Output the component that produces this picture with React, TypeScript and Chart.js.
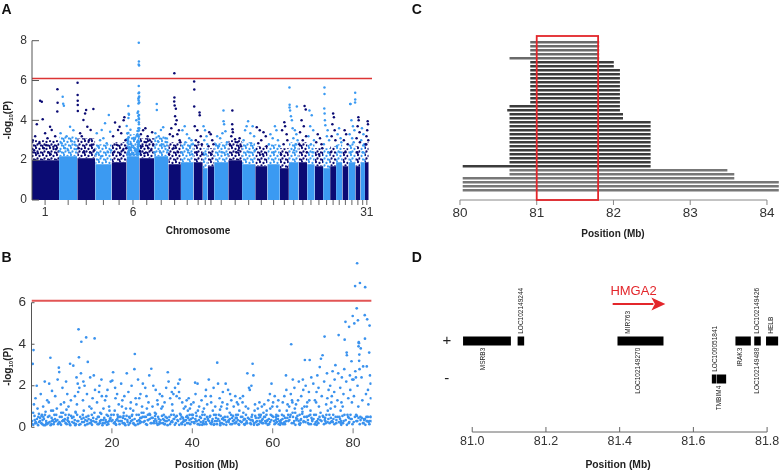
import React, { useEffect, useRef } from 'react';
import { Chart, registerables } from 'chart.js';

Chart.register(...registerables);

const FONT = '"Liberation Sans", Arial, Helvetica, sans-serif';

// ---------------- Panel A: genome-wide Manhattan plot ----------------
const chromosomeNames = ['1','2','3','4','5','6','7','8','9','10','11','12','13','14','15','16','17','18','19','20','21','22','23','24','25','26','27','28','29','30','31'];
const chromosomeLengthsMb = [185.8, 120.9, 119.5, 108.6, 99.7, 84.7, 98.5, 94.1, 83.6, 83.9, 61.3, 33.1, 42.6, 93.9, 91.6, 87.4, 80.8, 82.6, 60.0, 64.2, 57.7, 49.9, 55.7, 46.7, 39.5, 41.9, 40.0, 46.2, 33.7, 30.1, 25.0];
const chromosomeTickLabels = ['1', '6', '31'];
// upper edge of the saturated (overplotted) band of each chromosome
const denseBandTop = [2.0, 2.2, 2.1, 1.8, 1.9, 2.2, 2.1, 2.2, 1.8, 1.9, 1.9, 1.6, 1.7, 1.9, 2.0, 1.8, 1.7, 1.8, 1.6, 1.9, 1.9, 1.8, 1.7, 1.6, 1.7, 1.9, 1.7, 1.9, 1.7, 1.9, 1.9];
// upper edge of the half-filled (speckled) zone above the saturated band
const speckleBandTop = [3.0, 3.2, 3.1, 2.8, 2.9, 3.3, 3.1, 3.2, 2.9, 2.9, 2.8, 2.6, 2.6, 2.9, 3.0, 2.9, 2.7, 2.8, 2.6, 2.9, 2.9, 2.8, 2.6, 2.6, 2.7, 2.8, 2.6, 2.9, 2.7, 2.8, 2.9];
// [chromosome, position (Mb), -log10(P)] for SNPs above the dense band (chr6 taken from panel B)
const manhattanPoints: number[][] = [
  [1,71,4.94],[1,60,4.99],[1,77,4.05],[1,38,3.8],[1,27,3.2],[1,126,3.68],[1,137,3.52],[1,93,3.35],[1,109,3.1],[1,11,3.0],[1,160,3.2],[1,55,2.85],[1,148,2.68],[1,175,5.56],[1,176,4.89],[1,174,4.45],[1,20,2.5],[1,85,2.6],[1,115,2.4],[1,45,2.35],[1,165,2.55],[1,100,2.75],[1,5,2.4],[1,130,2.3],
  [2,24,5.19],[2,27.5,4.83],[2,32,4.73],[2,10,3.35],[2,73,3.68],[2,95,3.5],[2,50,3.2],[2,17,2.85],[2,84,2.95],[2,106,2.78],[2,40,2.6],[2,60,2.5],[2,115,2.55],[2,5,2.45],
  [3,2,5.89],[3,2.5,5.27],[3,3,4.99],[3,3.2,4.77],[3,3.5,4.47],[3,107,4.57],[3,52,4.35],[3,59,4.52],[3,41,4.02],[3,67,3.68],[3,89,3.52],[3,19,3.35],[3,30,3.2],[3,78,3.0],[3,96,2.78],[3,10,2.6],[3,112,2.5],[3,45,2.45],[3,85,2.4],
  [4,90,4.27],[4,65,3.85],[4,43,3.52],[4,10,3.35],[4,99,3.43],[4,32,3.0],[4,76,2.85],[4,21,2.68],[4,54,3.1],[4,5,2.3],[4,85,2.4],[4,40,2.2],[4,105,2.5],
  [5,85,4.15],[5,23,3.89],[5,43,3.52],[5,10,3.2],[5,64,3.35],[5,92,3.0],[5,33,2.78],[5,53,3.68],[5,75,2.5],[5,15,2.4],[5,60,2.3],[5,97,2.6],[5,80,4.0],
  [7,10,3.3],[7,25,3.5],[7,40,3.6],[7,55,3.2],[7,70,3.0],[7,85,3.4],[7,92,2.8],[7,20,2.7],[7,60,2.6],[7,45,2.9],[7,5,2.45],[7,78,2.5],[7,33,2.35],
  [8,17,4.82],[8,17.5,4.52],[8,60,3.65],[8,45,3.52],[8,8,3.35],[8,30,3.2],[8,75,3.1],[8,85,2.9],[8,50,2.8],[8,70,2.7],[8,25,2.95],[8,90,2.5],[8,38,2.45],[8,3,2.4],
  [9,40,6.37],[9,40.5,5.15],[9,39,4.95],[9,42,4.75],[9,50,4.58],[9,45,4.2],[9,55,4.0],[9,20,3.6],[9,70,3.5],[9,10,3.3],[9,30,3.2],[9,60,3.3],[9,75,3.0],[9,80,2.9],[9,35,2.6],[9,5,2.3],[9,65,2.4],[9,48,3.8],
  [10,10,3.5],[10,25,3.7],[10,40,3.3],[10,55,3.1],[10,70,3.0],[10,80,2.8],[10,30,2.9],[10,60,2.7],[10,5,2.4],[10,47,2.5],[10,75,2.3],
  [11,4,5.95],[11,5,5.55],[11,4.5,4.7],[11,40,4.4],[11,41,4.25],[11,8,3.7],[11,25,3.5],[11,48,3.2],[11,15,3.0],[11,55,2.8],[11,32,2.9],[11,20,2.4],[11,58,2.3],
  [12,5,3.7],[12,15,3.5],[12,25,3.2],[12,10,3.0],[12,30,2.8],[12,20,2.3],
  [13,10,3.4],[13,20,3.3],[13,30,3.0],[13,38,2.8],[13,5,2.7],[13,25,2.3],
  [14,62,4.5],[14,62.5,3.95],[14,66,3.8],[14,55,3.35],[14,20,3.2],[14,75,3.45],[14,40,3.1],[14,85,2.9],[14,10,2.8],[14,30,2.7],[14,50,2.4],[14,90,2.3],
  [15,27,4.5],[15,26,3.8],[15,28,3.55],[15,30,3.4],[15,20,3.2],[15,45,3.05],[15,60,2.9],[15,75,3.1],[15,85,2.7],[15,10,2.8],[15,52,2.4],[15,68,2.5],
  [16,40,3.95],[16,30,3.7],[16,70,3.7],[16,20,3.5],[16,55,3.35],[16,80,3.2],[16,10,3.0],[16,60,2.85],[16,45,2.4],[16,85,2.5],
  [17,10,3.65],[17,30,3.5],[17,55,3.4],[17,70,3.2],[17,40,3.0],[17,20,2.85],[17,75,2.7],[17,50,2.3],
  [18,50,3.7],[18,60,3.5],[18,20,3.3],[18,35,3.1],[18,70,3.0],[18,10,2.8],[18,80,2.7],[18,42,2.4],
  [19,30,3.9],[19,35,3.7],[19,15,3.5],[19,45,3.3],[19,50,3.0],[19,25,2.8],[19,8,2.3],
  [20,4,5.65],[20,5,4.78],[20,4.5,4.65],[20,8,4.5],[20,14,4.2],[20,20,4.0],[20,53,4.7],[20,25,3.6],[20,40,3.5],[20,50,3.3],[20,30,3.1],[20,58,3.0],[20,45,2.8],[20,35,2.5],
  [21,40,4.72],[21,48,4.55],[21,20,4.0],[21,35,3.7],[21,10,3.4],[21,50,3.2],[21,28,3.0],[21,5,2.8],[21,55,2.4],
  [22,15,4.5],[22,30,4.25],[22,20,3.7],[22,40,3.5],[22,8,3.2],[22,45,3.0],[22,25,2.8],[22,35,2.4],
  [23,20,3.3],[23,35,3.1],[23,10,2.9],[23,45,2.8],[23,50,2.6],[23,28,2.3],
  [24,9,5.65],[24,9.5,5.32],[24,8,4.6],[24,10,4.35],[24,12,4.0],[24,15,3.75],[24,30,3.5],[24,25,3.2],[24,40,3.0],[24,5,2.8],[24,35,2.4],
  [25,20,4.35],[25,25,4.15],[25,15,3.8],[25,30,3.5],[25,10,3.2],[25,35,3.0],[25,5,2.4],
  [26,20,3.6],[26,10,3.3],[26,30,3.1],[26,35,2.9],[26,5,2.7],[26,25,2.4],
  [27,15,3.5],[27,25,3.3],[27,10,3.0],[27,35,2.8],[27,20,2.4],
  [28,12,4.82],[28,14,4.82],[28,45,5.38],[28,45.5,5.05],[28,44.5,4.9],[28,20,4.0],[28,30,3.7],[28,40,3.5],[28,8,3.3],[28,25,3.1],[28,35,2.9],[28,16,2.4],
  [29,20,4.15],[29,22,4.0],[29,15,3.7],[29,28,3.4],[29,8,3.1],[29,30,2.9],[29,12,2.4],
  [30,10,3.6],[30,20,3.3],[30,5,3.0],[30,25,2.8],[30,15,2.4],
  [31,18,3.95],[31,20,3.8],[31,15,3.5],[31,10,3.2],[31,22,3.0],[31,5,2.8],
];
const significanceThreshold = 6.1;
const aYTicks = [0, 2, 4, 6, 8];

// ---------------- Panel B: chromosome 6 ----------------
// [position (Mb), -log10(P)]
const chr6Points: number[][] = [
  [0.2,0.15],[0.4,0.7],[0.5,3.72],[0.3,3.05],[0.8,0.35],[1.0,1.4],[1.2,0.2],[1.5,0.9],[1.7,0.5],[1.9,0.25],[0.6,1.1],[1.3,2.0],
  [2.1,0.3],[2.3,1.6],[2.5,0.55],[2.7,0.15],[2.9,1.0],[3.1,0.4],[3.3,2.2],[3.5,0.75],[3.7,0.2],[3.9,1.3],[2.6,0.6],[3.4,0.1],
  [4.1,0.5],[4.3,1.2],[4.7,3.35],[4.5,0.25],[4.9,0.8],[5.1,1.75],[5.3,0.35],[5.5,0.15],[5.7,0.6],[5.9,1.5],[4.4,2.1],[5.0,0.45],
  [6.1,0.3],[6.3,0.9],[6.5,2.3],[6.8,2.87],[6.9,2.66],[7.1,0.2],[7.3,1.1],[7.5,0.5],[7.7,1.9],[7.9,0.35],[6.6,0.15],[7.4,0.7],
  [8.1,1.2],[8.3,0.4],[8.5,0.2],[8.7,0.85],[8.9,1.6],[9.1,0.3],[9.3,0.6],[9.6,3.06],[9.8,1.3],[9.5,0.15],[8.6,2.2],[9.2,1.0],
  [10.1,0.45],[10.4,2.97],[10.6,0.2],[10.8,1.5],[11.0,0.7],[11.2,2.4],[11.4,0.3],[11.7,4.72],[11.8,3.37],[11.9,1.9],[11.5,2.1],[11.6,1.7],[10.9,0.1],[11.3,1.1],
  [12.1,0.5],[12.4,4.12],[12.3,2.6],[12.6,0.25],[12.8,1.3],[13.0,0.8],[13.2,2.0],[13.6,4.33],[13.4,0.35],[13.8,1.6],[13.9,0.15],[12.9,2.2],
  [14.0,3.15],[14.2,0.4],[14.4,1.0],[14.6,2.4],[14.8,0.2],[15.0,0.6],[15.2,1.4],[15.4,0.3],[15.7,4.28],[15.8,1.8],[14.9,0.9],[15.5,2.5],
  [16.1,0.25],[16.3,1.2],[16.5,0.5],[16.7,0.15],[16.9,2.0],[17.1,0.7],[17.3,0.35],[17.5,1.5],[17.7,0.2],[17.9,0.9],[16.8,1.7],[17.4,2.3],
  [18.1,0.45],[18.3,1.3],[18.5,0.25],[18.7,0.6],[18.9,1.8],[19.1,0.15],[19.3,1.0],[19.5,0.4],[19.7,2.2],[19.9,0.3],[18.6,1.5],[19.4,0.8],
  [20.1,2.25],[20.3,2.65],[20.5,0.2],[20.7,0.8],[20.9,1.4],[21.1,0.35],[21.3,1.6],[21.5,0.5],[21.7,1.1],[21.9,0.15],[20.8,1.9],[21.4,0.6],
  [22.1,0.3],[22.3,2.1],[22.5,1.0],[22.7,0.2],[22.9,0.55],[23.1,1.5],[23.3,0.4],[23.7,2.6],[23.5,0.9],[23.9,0.25],[22.6,1.3],[23.2,0.15],
  [24.1,1.7],[24.3,0.5],[24.5,0.2],[24.7,1.2],[24.9,2.0],[25.1,0.35],[25.3,0.8],[25.7,3.53],[25.6,2.8],[25.9,1.4],[25.5,0.15],[24.6,0.9],
  [26.1,1.1],[26.3,0.3],[26.5,2.3],[26.7,0.6],[26.9,0.2],[27.1,1.6],[27.3,0.45],[27.5,1.0],[27.7,2.1],[27.9,0.25],[26.8,1.4],[27.4,0.7],
  [28.1,0.5],[28.3,1.9],[28.5,0.15],[28.7,0.9],[28.9,0.35],[29.1,1.2],[29.3,2.5],[29.5,0.6],[29.8,2.82],[29.9,0.2],[28.6,1.5],[29.4,0.4],
  [30.1,1.0],[30.3,2.0],[30.5,0.3],[30.7,0.7],[30.9,1.8],[31.1,0.2],[31.3,1.3],[31.5,0.5],[31.7,0.15],[31.9,1.6],[30.8,0.4],[31.4,1.1],
  [32.1,0.35],[32.3,0.9],[32.5,1.5],[32.7,0.2],[32.9,0.6],[33.1,1.2],[33.3,0.3],[33.5,1.9],[33.9,2.65],[33.7,0.45],[32.6,1.0],[33.2,0.15],
  [34.1,2.2],[34.3,0.5],[34.5,1.4],[34.7,0.25],[34.9,1.7],[35.1,0.8],[35.3,1.6],[35.5,0.4],[35.7,1.9],[35.9,0.2],[35.0,1.1],[35.4,0.6],
  [36.1,1.5],[36.3,0.35],[36.5,2.1],[36.7,1.7],[36.9,2.3],[37.1,0.6],[37.3,0.2],[37.5,1.2],[37.7,0.45],[37.9,0.9],[36.8,1.4],[37.4,0.15],
  [38.1,0.3],[38.3,1.0],[38.5,0.5],[38.7,0.2],[38.9,0.8],[39.1,1.4],[39.3,0.35],[39.5,0.15],[39.7,1.1],[39.9,0.6],[38.6,1.3],[39.4,0.9],
  [40.1,0.45],[40.3,1.2],[40.5,0.2],[40.7,2.15],[40.9,0.7],[41.1,0.3],[41.3,2.1],[41.5,0.15],[41.7,1.0],[41.9,0.5],[40.8,1.6],[41.4,0.8],
  [42.1,0.25],[42.3,1.3],[42.5,0.6],[42.7,0.2],[42.9,0.9],[43.1,0.4],[43.3,1.5],[43.5,0.15],[43.7,1.1],[43.9,0.35],[42.6,0.75],[43.4,1.8],
  [44.1,2.3],[44.3,0.5],[44.5,0.2],[44.7,1.2],[44.9,0.3],[45.1,0.8],[45.3,1.9],[45.5,0.15],[45.7,1.0],[45.9,0.45],[44.6,1.5],[45.4,0.6],
  [46.2,3.11],[46.4,2.1],[46.1,0.3],[46.6,0.6],[46.8,1.4],[47.0,0.2],[47.2,1.0],[47.4,0.4],[47.6,1.7],[47.8,0.15],[46.9,0.85],[47.5,1.2],
  [48.1,0.5],[48.3,2.1],[48.5,0.25],[48.7,1.1],[48.9,1.8],[49.1,0.35],[49.3,0.7],[49.5,0.15],[49.7,1.3],[49.9,0.45],[48.6,0.9],[49.4,1.6],
  [50.1,0.3],[50.3,1.0],[50.5,0.2],[50.7,1.5],[50.9,0.6],[51.1,1.2],[51.3,0.35],[51.5,0.15],[51.7,0.8],[51.9,1.4],[50.8,0.45],[51.4,1.1],
  [52.1,0.5],[52.3,0.25],[52.5,1.2],[52.7,0.7],[52.9,0.15],[53.1,0.4],[53.3,1.0],[53.5,0.3],[53.7,2.6],[53.9,0.9],[52.6,1.5],[53.4,0.2],
  [54.1,1.9],[54.3,1.8],[54.5,0.35],[54.7,2.0],[54.9,0.6],[55.0,3.06],[55.2,2.5],[55.4,0.2],[55.6,1.1],[55.8,0.45],[54.6,0.15],[55.5,0.8],
  [56.1,0.3],[56.3,0.9],[56.5,0.15],[56.7,1.2],[56.9,0.5],[57.1,0.25],[57.3,1.0],[57.5,0.4],[57.7,0.7],[57.9,1.1],[56.6,0.6],[57.4,0.2],
  [58.1,0.5],[58.3,0.2],[58.5,0.8],[58.7,0.35],[58.9,1.3],[59.1,0.15],[59.3,1.6],[59.5,0.6],[59.7,2.1],[59.9,1.0],[58.6,0.3],[59.4,0.9],
  [60.1,1.2],[60.3,0.3],[60.5,1.5],[60.7,0.2],[60.9,0.6],[61.1,1.0],[61.3,0.4],[61.5,0.15],[61.7,0.8],[61.9,0.25],[60.8,0.5],[61.4,1.3],
  [62.1,0.35],[62.3,0.6],[62.5,1.2],[62.7,0.2],[62.9,1.5],[63.1,0.45],[63.3,2.5],[63.5,0.8],[63.7,1.1],[63.9,0.3],[62.6,0.15],[63.4,1.8],
  [64.1,1.0],[64.3,0.5],[64.6,4.0],[64.8,1.3],[65.0,2.3],[65.2,0.2],[65.4,1.9],[65.6,0.7],[65.8,1.1],[65.9,0.35],[64.5,1.6],[65.5,0.9],[64.9,1.2],
  [66.1,0.4],[66.3,1.3],[66.5,2.2],[66.7,0.6],[66.9,0.2],[67.1,1.5],[67.3,0.9],[67.5,2.3],[67.7,0.3],[67.9,1.0],[66.6,0.15],[67.4,0.75],[67.6,1.8],
  [68.0,3.24],[68.2,2.0],[68.4,0.5],[68.6,1.2],[68.8,0.2],[69.0,1.7],[69.2,3.24],[69.4,0.8],[69.6,2.4],[69.8,0.35],[68.5,1.0],[69.5,0.15],[69.1,1.3],
  [70.1,2.1],[70.3,0.6],[70.5,1.3],[70.7,0.25],[70.9,1.7],[71.1,2.5],[71.3,0.4],[71.5,1.0],[71.7,2.9],[71.9,0.7],[70.6,0.15],[71.4,1.9],[70.8,1.2],
  [72.0,3.3],[72.4,3.47],[72.2,1.5],[72.6,0.5],[72.9,4.37],[72.8,2.2],[73.1,0.3],[73.3,1.1],[73.5,2.6],[73.7,0.8],[73.9,1.8],[73.2,0.2],[73.6,1.4],
  [74.1,0.6],[74.3,2.0],[74.5,0.25],[74.7,1.5],[74.9,2.7],[75.1,0.4],[75.3,1.7],[75.6,2.99],[75.5,1.0],[75.8,0.2],[74.6,1.2],[75.4,2.3],[74.4,0.9],
  [76.1,1.3],[76.4,4.44],[76.3,2.6],[76.6,0.5],[76.8,1.9],[77.0,0.3],[77.2,2.4],[77.4,1.0],[77.6,1.6],[77.9,4.22],[77.8,2.8],[76.9,0.8],[77.5,0.2],[77.1,1.2],
  [78.1,5.08],[78.4,3.6],[78.45,3.47],[78.3,2.2],[78.6,0.6],[78.8,1.4],[79.0,4.84],[79.2,2.5],[79.4,0.4],[79.6,3.18],[79.9,5.36],[79.7,1.2],[79.8,2.3],[78.9,0.2],[79.3,1.8],
  [80.3,5.0],[80.5,6.8],[80.55,2.7],[80.9,5.73],[81.0,7.9],[81.2,5.15],[81.4,4.1],[81.45,4.05],[81.5,3.2],[81.7,6.95],[81.9,3.8],[80.1,2.3],[80.2,1.5],[80.7,2.4],[81.1,2.0],[81.3,1.0],[81.6,2.8],[81.8,0.5],[80.8,0.3],[81.55,3.5],[81.35,3.9],
  [82.1,2.4],[82.3,1.3],[82.5,2.93],[82.7,0.4],[82.9,5.4],[82.95,4.27],[83.0,6.75],[83.2,1.6],[83.4,2.93],[83.6,0.3],[83.8,1.1],[82.6,0.2],[83.3,0.5],[83.5,5.2],[83.7,1.8],
  [84.0,3.6],[84.1,4.9],[84.2,2.5],[84.3,0.5],[84.4,1.4],[84.5,0.3],[84.35,2.1],
  // low-significance SNPs that crowd the bottom of the plot
  [0.15,0.3],[0.45,0.12],[0.75,0.55],[1.05,0.25],[1.35,0.4],[1.65,0.1],[1.85,0.65],[0.95,0.2],
  [2.15,0.45],[2.45,0.2],[2.75,0.35],[3.05,0.1],[3.35,0.6],[3.65,0.3],[3.85,0.15],[2.95,0.5],
  [4.15,0.2],[4.45,0.55],[4.75,0.1],[5.05,0.3],[5.35,0.8],[5.65,0.25],[5.85,0.4],[4.95,0.15],
  [6.15,0.6],[6.45,0.35],[6.75,0.2],[7.05,0.5],[7.35,0.12],[7.65,0.3],[7.85,0.7],[6.95,0.25],
  [8.15,0.3],[8.45,0.6],[8.75,0.15],[9.05,0.45],[9.35,0.25],[9.65,0.1],[9.85,0.55],[8.95,0.35],
  [10.15,0.25],[10.45,0.5],[10.75,0.35],[11.05,0.15],[11.35,0.6],[11.65,0.3],[11.85,0.12],[10.95,0.75],
  [12.15,0.15],[12.45,0.4],[12.75,0.6],[13.05,0.25],[13.35,0.1],[13.65,0.5],[13.85,0.3],[12.95,0.45],
  [14.15,0.55],[14.45,0.2],[14.75,0.35],[15.05,0.12],[15.35,0.45],[15.65,0.7],[15.85,0.25],[14.95,0.3],
  [16.15,0.4],[16.45,0.15],[16.75,0.5],[17.05,0.3],[17.35,0.65],[17.65,0.1],[17.85,0.35],[16.95,0.2],
  [18.15,0.2],[18.45,0.35],[18.75,0.12],[19.05,0.55],[19.35,0.3],[19.65,0.45],[19.85,0.6],[18.95,0.25],
  [20.15,0.35],[20.45,0.6],[20.75,0.25],[21.05,0.12],[21.35,0.4],[21.65,0.3],[21.85,0.5],[20.95,0.15],
  [22.15,0.5],[22.45,0.3],[22.75,0.45],[23.05,0.2],[23.35,0.1],[23.65,0.55],[23.85,0.35],[22.95,0.7],
  [24.15,0.12],[24.45,0.45],[24.75,0.3],[25.05,0.6],[25.35,0.2],[25.65,0.4],[25.85,0.1],[24.95,0.55],
  [26.15,0.6],[26.45,0.15],[26.75,0.35],[27.05,0.45],[27.35,0.25],[27.65,0.5],[27.85,0.7],[26.95,0.3],
  [28.15,0.3],[28.45,0.5],[28.75,0.12],[29.05,0.35],[29.35,0.65],[29.65,0.2],[29.85,0.45],[28.95,0.6],
  [30.15,0.45],[30.45,0.2],[30.75,0.55],[31.05,0.3],[31.35,0.12],[31.65,0.4],[31.85,0.25],[30.95,0.65],
  [32.15,0.2],[32.45,0.55],[32.75,0.4],[33.05,0.15],[33.35,0.5],[33.65,0.3],[33.85,0.1],[32.95,0.35],
  [34.15,0.35],[34.45,0.15],[34.75,0.6],[35.05,0.25],[35.35,0.4],[35.65,0.12],[35.85,0.5],[34.95,0.3],
  [36.15,0.55],[36.45,0.3],[36.75,0.12],[37.05,0.4],[37.35,0.5],[37.65,0.25],[37.85,0.35],[36.95,0.65],
  [38.15,0.12],[38.45,0.35],[38.75,0.55],[39.05,0.2],[39.35,0.6],[39.65,0.4],[39.85,0.25],[38.95,0.45],
  [40.15,0.6],[40.45,0.25],[40.75,0.4],[41.05,0.55],[41.35,0.15],[41.65,0.35],[41.85,0.12],[40.95,0.3],
  [42.15,0.45],[42.45,0.12],[42.75,0.3],[43.05,0.6],[43.35,0.25],[43.65,0.5],[43.85,0.4],[42.95,0.15],
  [44.15,0.3],[44.45,0.55],[44.75,0.15],[45.05,0.4],[45.35,0.12],[45.65,0.3],[45.85,0.6],[44.95,0.25],
  [46.15,0.15],[46.45,0.4],[46.75,0.3],[47.05,0.55],[47.35,0.2],[47.65,0.45],[47.85,0.35],[46.95,0.1],
  [48.15,0.35],[48.45,0.12],[48.75,0.5],[49.05,0.25],[49.35,0.4],[49.65,0.6],[49.85,0.15],[48.95,0.3],
  [50.15,0.55],[50.45,0.35],[50.75,0.2],[51.05,0.45],[51.35,0.6],[51.65,0.12],[51.85,0.3],[50.95,0.25],
  [52.15,0.25],[52.45,0.5],[52.75,0.35],[53.05,0.12],[53.35,0.6],[53.65,0.2],[53.85,0.45],[52.95,0.4],
  [54.15,0.4],[54.45,0.2],[54.75,0.5],[55.05,0.3],[55.35,0.12],[55.65,0.55],[55.85,0.25],[54.95,0.35],
  [56.15,0.12],[56.45,0.45],[56.75,0.3],[57.05,0.6],[57.35,0.35],[57.65,0.2],[57.85,0.5],[56.95,0.25],
  [58.15,0.3],[58.45,0.6],[58.75,0.12],[59.05,0.4],[59.35,0.25],[59.65,0.35],[59.85,0.55],[58.95,0.15],
  [60.15,0.5],[60.45,0.15],[60.75,0.35],[61.05,0.25],[61.35,0.55],[61.65,0.3],[61.85,0.12],[60.95,0.4],
  [62.15,0.2],[62.45,0.4],[62.75,0.55],[63.05,0.15],[63.35,0.3],[63.65,0.45],[63.85,0.6],[62.95,0.25],
  [64.15,0.35],[64.45,0.6],[64.75,0.2],[65.05,0.5],[65.35,0.3],[65.65,0.12],[65.85,0.45],[64.95,0.7],
  [66.15,0.55],[66.45,0.3],[66.75,0.12],[67.05,0.4],[67.35,0.65],[67.65,0.25],[67.85,0.5],[66.95,0.35],
  [68.15,0.25],[68.45,0.5],[68.75,0.35],[69.05,0.15],[69.35,0.6],[69.65,0.45],[69.85,0.3],[68.95,0.55],
  [70.15,0.4],[70.45,0.15],[70.75,0.6],[71.05,0.3],[71.35,0.2],[71.65,0.5],[71.85,0.35],[70.95,0.12],
  [72.15,0.3],[72.45,0.55],[72.75,0.15],[73.05,0.45],[73.35,0.6],[73.65,0.25],[73.85,0.4],[72.95,0.35],
  [74.15,0.2],[74.45,0.45],[74.75,0.3],[75.05,0.6],[75.35,0.15],[75.65,0.5],[75.85,0.35],[74.95,0.25],
  [76.15,0.5],[76.45,0.25],[76.75,0.4],[77.05,0.12],[77.35,0.55],[77.65,0.3],[77.85,0.6],[76.95,0.2],
  [78.15,0.35],[78.45,0.12],[78.75,0.5],[79.05,0.25],[79.35,0.6],[79.65,0.4],[79.85,0.15],[78.95,0.45],
  [80.15,0.25],[80.45,0.5],[80.75,0.6],[81.05,0.3],[81.35,0.45],[81.65,0.15],[81.85,0.35],[80.95,0.55],
  [82.15,0.45],[82.45,0.2],[82.75,0.35],[83.05,0.12],[83.35,0.3],[83.65,0.5],[83.85,0.25],[82.95,0.4],
  [84.15,0.3],[84.45,0.5],[84.05,0.15],
];
const bXTicks = [20, 40, 60, 80];
const bYTicks = [0, 2, 4, 6];

// ---------------- Panel C: shared haplotype segments ----------------
const haplotypeStarts = [80.92,80.92,80.92,80.92,80.65,80.92,80.92,80.92,80.92,80.92,80.92,80.92,80.92,80.92,80.92,80.92,80.65,80.62,80.65,80.65,80.65,80.65,80.65,80.65,80.65,80.65,80.65,80.65,80.65,80.65,80.65,80.04,80.65,80.65,80.04,80.04,80.04,80.04];
const haplotypeEnds = [81.81,81.81,81.81,81.81,81.81,82.0,82.0,82.08,82.08,82.08,82.08,82.08,82.08,82.08,82.08,82.08,82.08,82.08,82.12,82.12,82.48,82.48,82.48,82.48,82.48,82.48,82.48,82.48,82.48,82.48,82.48,82.48,83.48,83.57,83.57,84.15,84.15,84.15];
const haplotypeIds = haplotypeStarts.map((_, i) => `H${i + 1}`);
const cXTicks = [80, 81, 82, 83, 84];
const candidateRegion = [81.0, 81.8];

// ---------------- Panel D: gene models ----------------
const geneNames = ['MSRB3', 'LOC102149244', 'LOC102149270', 'IRAK3', 'LOC102149426', 'HELB', 'LOC100051841', 'TMBIM4'];
const geneStarts = [80.976, 81.124, 81.395, 81.715, 81.766, 81.798, 81.651, 81.664];
const geneEnds = [81.104, 81.140, 81.518, 81.755, 81.782, 81.829, 81.661, 81.688];
const geneStrands = ['+', '+', '+', '+', '+', '+', '-', '-'];
const labelNames = ['MSRB3', 'LOC102149244', 'MIR763', 'LOC102149270', 'LOC100051841', 'TMBIM4', 'IRAK3', 'LOC102149488', 'LOC102149426', 'HELB'];
const labelPositions = [81.030, 81.134, 81.422, 81.451, 81.658, 81.670, 81.728, 81.773, 81.773, 81.812];
const labelStrands = ['+', '+', '+', '+', '-', '-', '+', '+', '+', '+'];
const labelSides = ['below', 'above', 'above', 'below', 'above', 'below', 'below', 'below', 'above', 'above'];
const strandLabels = ['+', '-'];
const dXTicks = [81.0, 81.2, 81.4, 81.6, 81.8];
const hmga2Name = 'HMGA2';
const hmga2Span = [81.381, 81.524];

// ---------------- helpers ----------------
function drawText(ctx: CanvasRenderingContext2D, s: string, x: number, y: number, font: string, color: string, align: CanvasTextAlign = 'center', baseline: CanvasTextBaseline = 'middle') {
  ctx.save();
  ctx.font = font;
  ctx.fillStyle = color;
  ctx.textAlign = align;
  ctx.textBaseline = baseline;
  ctx.fillText(s, x, y);
  ctx.restore();
}
function drawLine(ctx: CanvasRenderingContext2D, x1: number, y1: number, x2: number, y2: number, color: string, width: number) {
  ctx.save();
  ctx.strokeStyle = color;
  ctx.lineWidth = width;
  ctx.beginPath();
  ctx.moveTo(x1, y1);
  ctx.lineTo(x2, y2);
  ctx.stroke();
  ctx.restore();
}
function drawLogTitle(ctx: CanvasRenderingContext2D, x: number, y: number) {
  ctx.save();
  ctx.translate(x, y);
  ctx.rotate(-Math.PI / 2);
  const main = `bold 10px ${FONT}`;
  const sub = `bold 6px ${FONT}`;
  ctx.font = main;
  const w1 = ctx.measureText('-log').width;
  const w3 = ctx.measureText('(P)').width;
  ctx.font = sub;
  const w2 = ctx.measureText('10').width;
  let cx = -(w1 + w2 + w3) / 2;
  ctx.fillStyle = '#222';
  ctx.textAlign = 'left';
  ctx.textBaseline = 'alphabetic';
  ctx.font = main;
  ctx.fillText('-log', cx, 3.5);
  cx += w1;
  ctx.font = sub;
  ctx.fillText('10', cx, 5.5);
  cx += w2;
  ctx.font = main;
  ctx.fillText('(P)', cx, 3.5);
  ctx.restore();
}
function panelLetter(ctx: CanvasRenderingContext2D, s: string, x: number, y: number) {
  drawText(ctx, s, x, y, `bold 14px ${FONT}`, '#111', 'left', 'alphabetic');
}
// dotted fill pattern that imitates over-plotted SNP markers
function speckle(color: string): CanvasPattern | string {
  const tile = document.createElement('canvas');
  tile.width = 7;
  tile.height = 7;
  const g = tile.getContext('2d');
  if (!g) return color;
  g.fillStyle = color;
  [[1, 1], [4.5, 2], [2.5, 4.5], [6, 5.5], [0.5, 6]].forEach(([px, py]) => {
    g.beginPath();
    g.arc(px, py, 1.15, 0, Math.PI * 2);
    g.fill();
  });
  return g.createPattern(tile, 'repeat') || color;
}

const chromosomeStarts: number[] = [];
chromosomeLengthsMb.forEach((len, i) => {
  chromosomeStarts.push(i === 0 ? 0 : chromosomeStarts[i - 1] + chromosomeLengthsMb[i - 1]);
});
const chromosomeCenters = chromosomeStarts.map((s, i) => s + chromosomeLengthsMb[i] / 2);

const DARK = '#0b0b74';
const LIGHT = '#3b9af2';
const B_BLUE = '#3a92ee';

function configA(): any {
  const darkSpeckle = speckle(DARK);
  const lightSpeckle = speckle(LIGHT);
  const pts = manhattanPoints.map(([c, p, v]) => ({ x: chromosomeStarts[c - 1] + p, y: v, c }));
  chr6Points.forEach(([p, v]) => {
    if (v > denseBandTop[5]) pts.push({ x: chromosomeStarts[5] + p, y: v, c: 6 });
  });
  const darkPts = pts.filter((p) => p.c % 2 === 1).map(({ x, y }) => ({ x, y }));
  const lightPts = pts.filter((p) => p.c % 2 === 0).map(({ x, y }) => ({ x, y }));
  const span = (i: number, v: number) => [
    { x: chromosomeStarts[i], y: v },
    { x: chromosomeStarts[i] + chromosomeLengthsMb[i], y: v },
  ];
  const bands = chromosomeNames.map((name, i) => ({
    type: 'line',
    label: `chr${name}`,
    data: span(i, denseBandTop[i]),
    fill: 'origin',
    backgroundColor: i % 2 === 0 ? DARK : LIGHT,
    borderWidth: 0,
    pointRadius: 0,
    order: 4,
  }));
  const speckles = chromosomeNames.map((name, i) => ({
    type: 'line',
    label: `chr${name}-speckle`,
    data: span(i, speckleBandTop[i]),
    fill: { value: denseBandTop[i] },
    backgroundColor: i % 2 === 0 ? darkSpeckle : lightSpeckle,
    borderWidth: 0,
    pointRadius: 0,
    order: 3,
  }));
  const xMin = 6, xMax = 2265;
  return {
    type: 'scatter',
    data: {
      datasets: [
        { type: 'line', label: 'threshold', data: [{ x: xMin, y: significanceThreshold }, { x: xMax, y: significanceThreshold }], borderColor: '#dc3434', borderWidth: 1.6, pointRadius: 0, fill: false, order: 0 },
        { label: 'odd', data: darkPts, pointRadius: 1.25, pointBackgroundColor: DARK, pointBorderWidth: 0, order: 1 },
        { label: 'even', data: lightPts, pointRadius: 1.25, pointBackgroundColor: LIGHT, pointBorderWidth: 0, order: 2 },
        ...speckles,
        ...bands,
      ],
    },
    options: {
      responsive: false,
      animation: false,
      events: [],
      layout: { padding: { left: 32, right: 28, top: 40.7, bottom: 40 } },
      plugins: { legend: { display: false }, tooltip: { enabled: false } },
      scales: {
        x: { type: 'linear', min: xMin, max: xMax, display: false },
        y: { type: 'linear', min: 0, max: 8, display: false },
      },
    },
    plugins: [{
      id: 'axesA',
      afterDraw(chart: any) {
        const { ctx, chartArea, scales } = chart;
        const x = scales.x, y = scales.y;
        const x0 = chartArea.left;
        drawLine(ctx, x0, y.getPixelForValue(0), x0, y.getPixelForValue(8), '#555', 1);
        aYTicks.forEach((v) => {
          const py = y.getPixelForValue(v);
          drawLine(ctx, x0, py, x0 + 7, py, '#555', 1);
          drawText(ctx, String(v), x0 - 5, py, `12px ${FONT}`, '#333', 'right');
        });
        chromosomeCenters.forEach((c, i) => {
          const px = x.getPixelForValue(c);
          drawLine(ctx, px, chartArea.bottom, px, chartArea.bottom + 5, '#666', 1);
          if (chromosomeTickLabels.includes(chromosomeNames[i])) {
            drawText(ctx, chromosomeNames[i], px, chartArea.bottom + 12.5, `12px ${FONT}`, '#333');
          }
        });
        drawText(ctx, 'Chromosome', 198, 231, `bold 10px ${FONT}`, '#222');
        drawLogTitle(ctx, 7.5, 120);
        panelLetter(ctx, 'A', 1.5, 13.5);
      },
    }],
  };
}

function configB(): any {
  const xMin = 0, xMax = 84.6;
  return {
    type: 'scatter',
    data: {
      datasets: [
        { type: 'line', label: 'threshold', data: [{ x: xMin, y: significanceThreshold }, { x: xMax, y: significanceThreshold }], borderColor: '#e25555', borderWidth: 2, pointRadius: 0, fill: false, order: 0 },
        { label: 'chr6', data: chr6Points.map(([p, v]) => ({ x: p, y: v })), pointRadius: 1.35, pointBackgroundColor: B_BLUE, pointBorderWidth: 0, order: 1 },
      ],
    },
    options: {
      responsive: false,
      animation: false,
      events: [],
      layout: { padding: { left: 31.5, right: 28.4, top: 19.1, bottom: 43.7 } },
      plugins: { legend: { display: false }, tooltip: { enabled: false } },
      scales: {
        x: { type: 'linear', min: xMin, max: xMax, display: false },
        y: { type: 'linear', min: 0, max: 8.1, display: false },
      },
    },
    plugins: [{
      id: 'axesB',
      afterDraw(chart: any) {
        const { ctx, chartArea, scales } = chart;
        const x = scales.x, y = scales.y;
        const x0 = chartArea.left;
        drawLine(ctx, x0, y.getPixelForValue(0), x0, y.getPixelForValue(6), '#555', 1);
        bYTicks.forEach((v) => {
          const py = y.getPixelForValue(v);
          drawLine(ctx, x0, py, x0 + 3, py, '#555', 1);
          drawText(ctx, String(v), x0 - 5.5, py, `13.5px ${FONT}`, '#333', 'right');
        });
        bXTicks.forEach((v) => {
          const px = x.getPixelForValue(v);
          drawLine(ctx, px, chartArea.bottom + 1, px, chartArea.bottom + 6, '#777', 1);
          drawText(ctx, String(v), px, chartArea.bottom + 16, `13.5px ${FONT}`, '#333');
        });
        drawText(ctx, 'Position (Mb)', 206.7, 225, `bold 10px ${FONT}`, '#222');
        drawLogTitle(ctx, 7.5, 126.7);
        panelLetter(ctx, 'B', 1.5, 21.7);
      },
    }],
  };
}

function configC(): any {
  const n = haplotypeIds.length;
  return {
    type: 'bar',
    data: {
      labels: haplotypeIds,
      datasets: [{
        label: 'haplotypes',
        data: haplotypeStarts.map((s, i) => [s, haplotypeEnds[i]]),
        backgroundColor: haplotypeIds.map((_, i) => (i < 5 ? '#6a6a6a' : i >= n - 6 ? '#777777' : '#3c3c3c')),
        borderWidth: 0,
        barThickness: 1.7,
      }],
    },
    options: {
      indexAxis: 'y',
      responsive: false,
      animation: false,
      events: [],
      layout: { padding: { left: 52.3, right: 2, top: 40.3, bottom: 47.7 } },
      plugins: { legend: { display: false }, tooltip: { enabled: false } },
      scales: {
        x: { type: 'linear', min: 79.9, max: 84.17, display: false },
        y: { type: 'category', display: false, offset: true },
      },
    },
    plugins: [{
      id: 'axesC',
      afterDraw(chart: any) {
        const { ctx, scales } = chart;
        const x = scales.x;
        const axisY = 200;
        drawLine(ctx, x.getPixelForValue(cXTicks[0]), axisY, x.getPixelForValue(cXTicks[cXTicks.length - 1]), axisY, '#888', 1);
        cXTicks.forEach((v) => {
          const px = x.getPixelForValue(v);
          drawLine(ctx, px, axisY, px, axisY + 5, '#888', 1);
          drawText(ctx, String(v), px, 213.5, `13.5px ${FONT}`, '#333');
        });
        const rx1 = x.getPixelForValue(candidateRegion[0]);
        const rx2 = x.getPixelForValue(candidateRegion[1]);
        ctx.save();
        ctx.strokeStyle = '#e3262b';
        ctx.lineWidth = 1.8;
        ctx.strokeRect(rx1, 36, rx2 - rx1, axisY - 36);
        ctx.restore();
        drawText(ctx, 'Position (Mb)', 213, 234, `bold 10px ${FONT}`, '#222');
        panelLetter(ctx, 'C', 11.7, 13.5);
      },
    }],
  };
}

function configD(): any {
  const boxThickness = 8.5;
  return {
    type: 'bar',
    data: {
      labels: strandLabels,
      datasets: [{
        label: 'genes',
        data: geneNames.map((_, i) => ({ x: [geneStarts[i], geneEnds[i]], y: geneStrands[i] })),
        backgroundColor: '#000',
        borderWidth: 0,
        barThickness: boxThickness,
      }],
    },
    options: {
      indexAxis: 'y',
      responsive: false,
      animation: false,
      events: [],
      layout: { padding: { left: 53.8, right: 2, top: 82, bottom: 73 } },
      plugins: { legend: { display: false }, tooltip: { enabled: false } },
      scales: {
        x: { type: 'linear', min: 80.95, max: 81.835, display: false },
        y: { type: 'category', display: false, offset: true },
      },
    },
    plugins: [{
      id: 'axesD',
      afterDraw(chart: any) {
        const { ctx, chartArea, scales } = chart;
        const x = scales.x, y = scales.y;
        const axisY = 192;
        drawLine(ctx, x.getPixelForValue(dXTicks[0]), axisY, x.getPixelForValue(dXTicks[dXTicks.length - 1]), axisY, '#666', 1);
        dXTicks.forEach((v) => {
          const px = x.getPixelForValue(v);
          drawLine(ctx, px, axisY, px, axisY - 5, '#666', 1);
          drawText(ctx, v.toFixed(1), px, 201.7, `12.5px ${FONT}`, '#333');
        });
        drawText(ctx, 'Position (Mb)', 218, 225, `bold 10.3px ${FONT}`, '#222');
        strandLabels.forEach((s, i) => {
          drawText(ctx, s, chartArea.left - 7, y.getPixelForValue(i), `15px ${FONT}`, '#222');
        });
        labelNames.forEach((name, i) => {
          const px = x.getPixelForValue(labelPositions[i]);
          const cy = y.getPixelForValue(strandLabels.indexOf(labelStrands[i]));
          const above = labelSides[i] === 'above';
          const ay = above ? cy - boxThickness / 2 - 3 : cy + boxThickness / 2 + 2.5;
          ctx.save();
          ctx.translate(px, ay);
          ctx.rotate(-Math.PI / 2);
          ctx.font = `6.5px ${FONT}`;
          ctx.fillStyle = '#222';
          ctx.textAlign = above ? 'left' : 'right';
          ctx.textBaseline = 'middle';
          ctx.fillText(name, 0, 0);
          ctx.restore();
        });
        const plusY = y.getPixelForValue(0);
        const ax1 = x.getPixelForValue(hmga2Span[0]);
        const ax2 = x.getPixelForValue(hmga2Span[1]);
        const arrowY = plusY - 37;
        const red = '#e3262b';
        drawLine(ctx, ax1, arrowY, ax2 - 12, arrowY, red, 2);
        ctx.save();
        ctx.fillStyle = red;
        ctx.beginPath();
        ctx.moveTo(ax2, arrowY);
        ctx.lineTo(ax2 - 14, arrowY - 6.5);
        ctx.lineTo(ax2 - 10.5, arrowY);
        ctx.lineTo(ax2 - 14, arrowY + 6.5);
        ctx.closePath();
        ctx.fill();
        ctx.restore();
        drawText(ctx, hmga2Name, (ax1 + ax2) / 2 - 5.5, arrowY - 12.5, `13px ${FONT}`, red);
        panelLetter(ctx, 'D', 11.7, 21.7);
      },
    }],
  };
}

export default function App() {
  const refA = useRef<HTMLCanvasElement>(null);
  const refB = useRef<HTMLCanvasElement>(null);
  const refC = useRef<HTMLCanvasElement>(null);
  const refD = useRef<HTMLCanvasElement>(null);

  useEffect(() => {
    const charts: Chart[] = [];
    if (refA.current) charts.push(new Chart(refA.current, configA()));
    if (refB.current) charts.push(new Chart(refB.current, configB()));
    if (refC.current) charts.push(new Chart(refC.current, configC()));
    if (refD.current) charts.push(new Chart(refD.current, configD()));
    return () => charts.forEach((c) => c.destroy());
  }, []);

  const canvasStyle = (left: number, top: number, w: number, h: number): React.CSSProperties => ({
    position: 'absolute', left, top, width: w, height: h,
  });

  return (
    <div style={{ position: 'fixed', left: 0, top: 0, width: 782, height: 471, background: '#fff', overflow: 'hidden' }}>
      <canvas ref={refA} width={400} height={240} style={canvasStyle(0, 0, 400, 240)} />
      <canvas ref={refB} width={400} height={231} style={canvasStyle(0, 240, 400, 231)} />
      <canvas ref={refC} width={382} height={240} style={canvasStyle(400, 0, 382, 240)} />
      <canvas ref={refD} width={382} height={231} style={canvasStyle(400, 240, 382, 231)} />
    </div>
  );
}
